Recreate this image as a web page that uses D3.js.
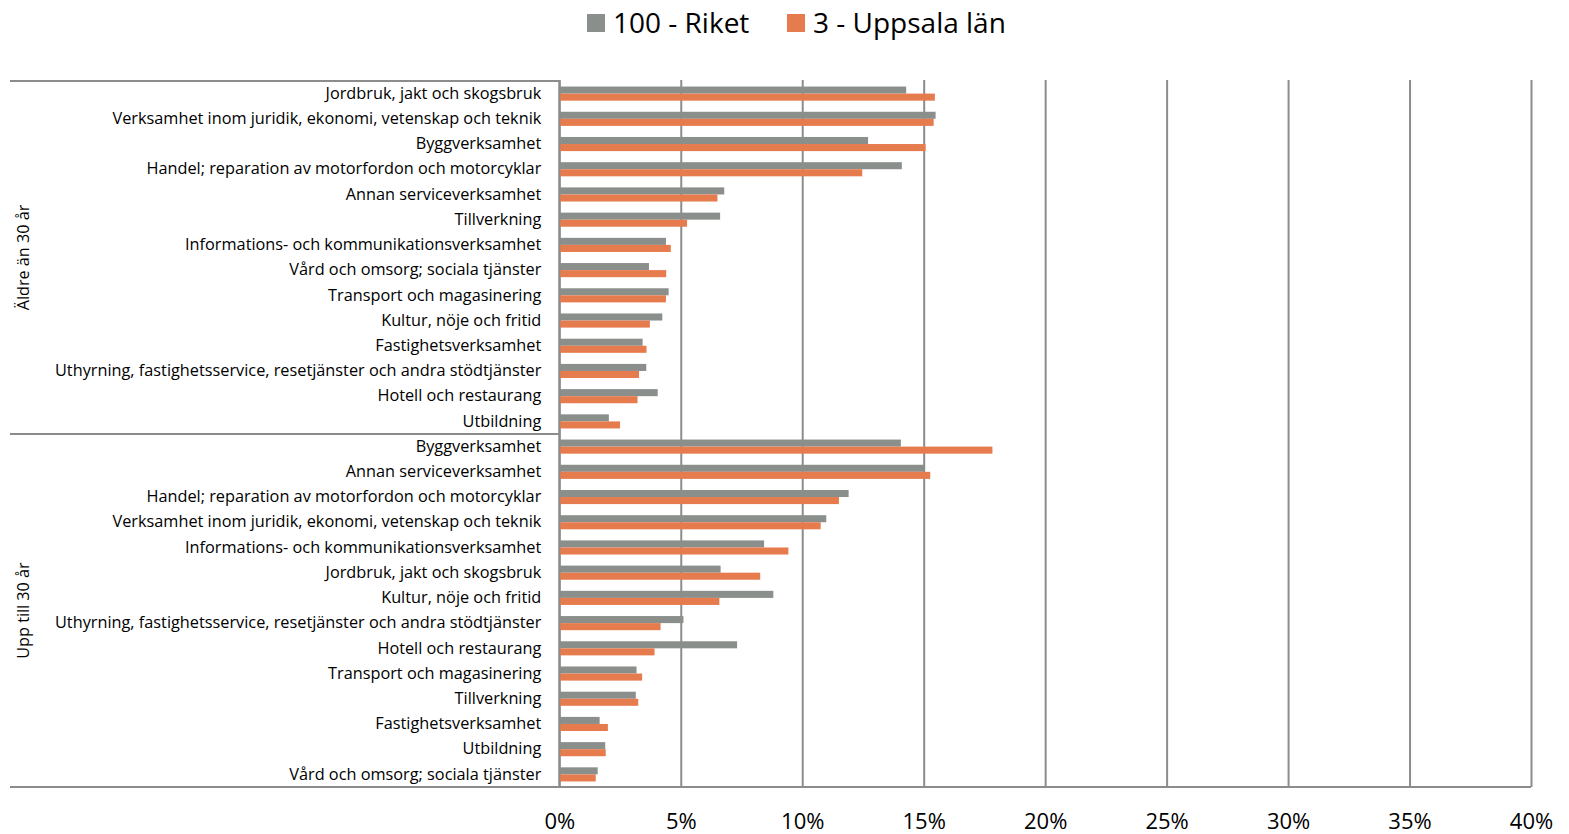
<!DOCTYPE html>
<html><head><meta charset="utf-8">
<script src="https://cdn.jsdelivr.net/npm/d3@7"></script>
<style>
html,body{margin:0;padding:0;background:#fff;}
text{font-family:"Open Sans",Lato,sans-serif;fill:#000;}
</style></head>
<body><svg id="c" width="1569" height="834"></svg>
<script>
const groups = ["Äldre än 30 år", "Upp till 30 år"];
const seriesNames = ["100 - Riket", "3 - Uppsala län"];
const seriesColors = ["#8b8f8c", "#e67b4d"];

const catsOlder = ["Jordbruk, jakt och skogsbruk","Verksamhet inom juridik, ekonomi, vetenskap och teknik","Byggverksamhet","Handel; reparation av motorfordon och motorcyklar","Annan serviceverksamhet","Tillverkning","Informations- och kommunikationsverksamhet","Vård och omsorg; sociala tjänster","Transport och magasinering","Kultur, nöje och fritid","Fastighetsverksamhet","Uthyrning, fastighetsservice, resetjänster och andra stödtjänster","Hotell och restaurang","Utbildning"];
const riketOlder   = [14.28,15.49,12.71,14.10,6.79,6.62,4.39,3.69,4.50,4.24,3.43,3.58,4.05,2.04];
const uppsalaOlder = [15.46,15.41,15.08,12.47,6.51,5.26,4.59,4.40,4.39,3.73,3.59,3.28,3.22,2.50];

const catsYoung = ["Byggverksamhet","Annan serviceverksamhet","Handel; reparation av motorfordon och motorcyklar","Verksamhet inom juridik, ekonomi, vetenskap och teknik","Informations- och kommunikationsverksamhet","Jordbruk, jakt och skogsbruk","Kultur, nöje och fritid","Uthyrning, fastighetsservice, resetjänster och andra stödtjänster","Hotell och restaurang","Transport och magasinering","Tillverkning","Fastighetsverksamhet","Utbildning","Vård och omsorg; sociala tjänster"];
const riketYoung   = [14.06,15.05,11.91,10.99,8.43,6.64,8.81,5.11,7.32,3.18,3.15,1.66,1.89,1.58];
const uppsalaYoung = [17.83,15.27,11.51,10.76,9.43,8.27,6.59,4.17,3.92,3.41,3.25,2.00,1.91,1.50];

const xTicks = [0,5,10,15,20,25,30,35,40];

const rows = [];
catsOlder.forEach((c,i)=>rows.push({key:"0|"+i, group:0, cat:c, vals:[riketOlder[i], uppsalaOlder[i]]}));
catsYoung.forEach((c,i)=>rows.push({key:"1|"+i, group:1, cat:c, vals:[riketYoung[i], uppsalaYoung[i]]}));

const svg = d3.select("#c");
const L = 559.3, R = 1531, T = 81, B = 787, leftEdge = 10;
const x = d3.scaleLinear().domain([0,40]).range([L,R]);
const y = d3.scaleBand().domain(rows.map(r=>r.key)).range([T,B]).paddingInner(0.44).paddingOuter(0.22);
const ys = d3.scaleBand().domain([0,1]).range([0,y.bandwidth()]);

// gridlines
const grid = svg.append("g").attr("transform",`translate(0,${B})`)
  .call(d3.axisBottom(x).tickValues(xTicks).tickSize(-(B-T+1)).tickFormat(""));
grid.select(".domain").remove();
grid.selectAll("line").attr("stroke","#8c8c8c").attr("stroke-width",2);

// bars
const rowG = svg.append("g").selectAll("g").data(rows).join("g")
  .attr("transform",d=>`translate(0,${y(d.key)})`);
rowG.selectAll("rect").data(d=>d.vals.map((v,i)=>({v,i}))).join("rect")
  .attr("x",x(0)).attr("y",d=>ys(d.i)).attr("height",ys.bandwidth())
  .attr("width",d=>x(d.v)-x(0)).attr("fill",d=>seriesColors[d.i]);

// category axis
const yAxis = svg.append("g").attr("transform",`translate(${L},0)`)
  .call(d3.axisLeft(y).tickSize(0).tickPadding(18).tickFormat(k=>rows.find(r=>r.key===k).cat));
yAxis.select(".domain").remove();
yAxis.selectAll("text").attr("font-size","16.3px").attr("font-family","'Open Sans',sans-serif");

// zero axis line
svg.append("line").attr("x1",x(0)).attr("x2",x(0)).attr("y1",T).attr("y2",B).attr("stroke","#8c8c8c").attr("stroke-width",2);

// group separators
svg.append("line").attr("x1",leftEdge).attr("x2",L).attr("y1",T).attr("y2",T).attr("stroke","#8c8c8c").attr("stroke-width",2);
const midY = (y("0|13")+y.bandwidth() + y("1|0"))/2;
svg.append("line").attr("x1",leftEdge).attr("x2",L).attr("y1",midY).attr("y2",midY).attr("stroke","#8c8c8c").attr("stroke-width",2);
svg.append("line").attr("x1",leftEdge).attr("x2",R).attr("y1",B).attr("y2",B).attr("stroke","#8c8c8c").attr("stroke-width",2);

// group labels
const gBounds = [[T,midY],[midY,B]];
groups.forEach((g,i)=>{
  const cy = (gBounds[i][0]+gBounds[i][1])/2;
  svg.append("text").attr("transform",`translate(29,${cy}) rotate(-90)`)
    .attr("text-anchor","middle").attr("font-size","16.2px").text(g);
});

// x axis labels
const xAxis = svg.append("g").attr("transform",`translate(0,${B})`)
  .call(d3.axisBottom(x).tickValues(xTicks).tickSize(0).tickPadding(26).tickFormat(d=>d+"%"));
xAxis.select(".domain").remove();
xAxis.selectAll("text").attr("font-size","22px").attr("font-family","Lato,sans-serif");

// legend
const leg = [{x:587,tx:613},{x:787,tx:813}];
seriesNames.forEach((n,i)=>{
  svg.append("rect").attr("x",leg[i].x).attr("y",14).attr("width",18).attr("height",18).attr("fill",seriesColors[i]);
  svg.append("text").attr("x",leg[i].tx).attr("y",33).attr("font-size","28px").text(n);
});
</script></body></html>
